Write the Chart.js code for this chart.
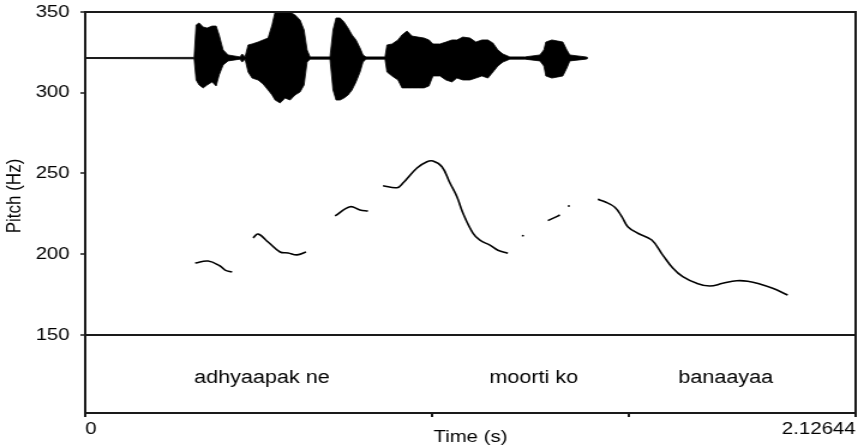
<!DOCTYPE html>
<html lang="en">
<head>
  <meta charset="UTF-8" />
  <title>Pitch contour</title>
  <script src="https://cdn.jsdelivr.net/npm/chart.js"></script>
  <style>
    html, body { margin: 0; padding: 0; background: #fff; }
  </style>
</head>
<body>
  <!-- the source picture is stretched sideways, so the canvas is too -->
  <canvas id="pitchChart" width="720" height="446" style="width:864px;height:446px;display:block"></canvas>

  <script>
    // pitch track: time (s) / F0 (Hz), null breaks the unvoiced stretches
    const pitchTime = [
      0.3034, 0.3392, 0.3723, 0.3861, 0.4054,
      0.43,
      0.4633, 0.4771, 0.5047, 0.5378, 0.5599, 0.5847, 0.6095,
      0.65,
      0.6895, 0.7309, 0.7584, 0.7805,
      0.80,
      0.8219, 0.8605, 0.8770, 0.9157, 0.9432, 0.9598, 0.9846, 1.0067, 1.0260, 1.0425, 1.0701, 1.0894, 1.1170, 1.1391, 1.1666,
      1.19,
      1.2052, 1.2108,
      1.24,
      1.2770, 1.2935, 1.3101,
      1.32,
      1.3321, 1.3376,
      1.37,
      1.4149, 1.4342, 1.4617, 1.4810, 1.4976, 1.5252, 1.5638, 1.5941, 1.6217, 1.6493, 1.6879, 1.7238, 1.7596, 1.7982, 1.8286, 1.8617, 1.8975, 1.9389
    ];
    const pitchHz = [
      194.6, 195.8, 192.7, 190.2, 189.0,
      null,
      210.1, 212.5, 207.6, 201.4, 200.8, 199.6, 201.4,
      null,
      223.7, 229.4, 227.4, 226.8,
      null,
      242.4, 241.2, 244.1, 253.4, 257.3, 257.7, 254.2, 244.1, 235.6, 225.5, 213.1, 208.7, 205.6, 202.5, 200.6,
      null,
      211.6, 211.4,
      null,
      220.8, 222.5, 224.3,
      null,
      229.7, 230.1,
      null,
      234.0, 232.5, 229.1, 223.3, 217.1, 213.0, 208.8, 199.5, 191.5, 186.1, 182.0, 180.3, 182.0, 183.6, 183.3, 181.6, 178.9, 174.8
    ];

    // waveform envelope, drawn on the same Hz axis as in the original picture
    const waveTime = [
      0, 0.3006, 0.3061, 0.3144, 0.3254, 0.3365, 0.3503, 0.3613, 0.3696, 0.3806, 0.3944,
      0.4275, 0.4330, 0.4413, 0.4496, 0.4606, 0.4771, 0.4909, 0.5047, 0.5157, 0.5240,
      0.5378, 0.5516, 0.5654, 0.5792, 0.5930, 0.6040, 0.6123, 0.6206, 0.6757, 0.6840,
      0.6923, 0.7033, 0.7143, 0.7254, 0.7364, 0.7474, 0.7585, 0.7667, 0.7750, 0.8274,
      0.8329, 0.8467, 0.8633, 0.8743, 0.8881, 0.9019, 0.9184, 0.9350, 0.9488, 0.9598,
      0.9791, 0.9956, 1.0122, 1.0260, 1.0425, 1.0618, 1.0784, 1.0949, 1.1115, 1.1253,
      1.1391, 1.1528, 1.1721, 1.2135, 1.2549, 1.2659, 1.2714, 1.2880, 1.3045, 1.3183,
      1.3293, 1.3376, 1.3818, 1.3873
    ];
    const waveTop = [
      321.8, 321.9, 342.0, 343.2, 340.7, 340.1, 341.3, 341.3, 335.8, 326.5, 323.4,
      322.2, 324.0, 322.2, 329.6, 330.2, 331.4, 332.7, 333.9, 342.0, 350.0,
      350.0, 350.0, 350.0, 348.1, 345.0, 338.9, 326.5, 322.2, 322.2, 338.9,
      346.3, 346.3, 343.8, 340.1, 335.8, 332.7, 327.7, 323.4, 322.2, 322.2,
      329.6, 330.2, 332.7, 335.8, 338.2, 335.1, 334.5, 333.9, 332.7, 330.2,
      330.2, 331.4, 332.7, 332.7, 334.5, 333.9, 331.4, 332.7, 332.7, 330.8,
      326.5, 324.0, 322.2, 322.2, 323.4, 326.5, 331.4, 332.7, 332.0, 331.4,
      326.5, 323.4, 322.2, 321.8
    ];
    const waveBottom = [
      321.2, 321.0, 307.9, 304.8, 303.0, 304.8, 306.7, 304.2, 311.0, 317.2, 319.7,
      320.8, 319.0, 320.8, 312.8, 309.1, 307.9, 305.4, 301.7, 298.6, 295.5,
      293.7, 296.7, 295.5, 298.6, 300.5, 304.8, 319.0, 320.8, 320.8, 301.7,
      295.5, 295.5, 296.7, 298.6, 301.7, 306.7, 312.8, 319.0, 320.8, 320.8,
      312.8, 310.4, 307.9, 303.0, 303.0, 303.0, 303.0, 303.0, 304.2, 310.4,
      310.4, 307.9, 306.7, 309.1, 307.9, 307.9, 309.1, 310.4, 309.1, 312.8,
      316.6, 319.0, 320.8, 320.8, 319.7, 316.6, 310.4, 309.1, 309.8, 310.4,
      315.3, 319.7, 320.8, 321.2
    ];

    // text tier
    const words = ['adhyaapak ne', 'moorti ko', 'banaayaa'];
    const wordTime = [0.488, 1.238, 1.768];
    const wordHz = 123.4;

    const yTicks = [150, 200, 250, 300, 350];
    const xTicks = [0, 0.957, 1.5, 2.12644];
    const yMin = 101.7;
    const tMax = 2.12644;

    const FONT = 'Liberation Sans, Arial, sans-serif';
    const INK = '#1a1a1a';

    const toPoints = (xs, ys) => xs.map((x, i) => ({ x: x, y: ys[i] }));

    // outer box, word labels and the y title (sits a bit above centre)
    const framePlugin = {
      id: 'frame',
      afterDatasetsDraw(chart) {
        const { ctx, chartArea: a, scales } = chart;
        ctx.save();
        ctx.strokeStyle = INK;
        ctx.lineWidth = 2;
        ctx.strokeRect(a.left, a.top, a.right - a.left, a.bottom - a.top);

        ctx.fillStyle = '#000';
        ctx.font = '18px ' + FONT;
        ctx.textAlign = 'center';
        ctx.textBaseline = 'middle';
        const yw = scales.y.getPixelForValue(wordHz);
        words.forEach((w, i) => {
          ctx.fillText(w, scales.x.getPixelForValue(wordTime[i]), yw);
        });

        ctx.font = '17px ' + FONT;
        ctx.translate(12.5, a.top + 184);
        ctx.rotate(-Math.PI / 2);
        ctx.fillText('Pitch (Hz)', 0, 0);
        ctx.restore();
      }
    };

    new Chart(document.getElementById('pitchChart'), {
      type: 'line',
      data: {
        datasets: [
          {
            data: toPoints(waveTime, waveTop),
            borderColor: '#000',
            backgroundColor: '#000',
            borderWidth: 0.8,
            pointRadius: 0,
            fill: '+1'
          },
          {
            data: toPoints(waveTime, waveBottom),
            borderColor: '#000',
            borderWidth: 0.8,
            pointRadius: 0,
            fill: false
          },
          {
            data: toPoints(pitchTime, pitchHz),
            borderColor: '#000',
            borderWidth: 1.6,
            pointRadius: 0,
            tension: 0.4,
            spanGaps: false,
            fill: false
          }
        ]
      },
      options: {
        responsive: false,
        animation: false,
        devicePixelRatio: 1,
        layout: { padding: { top: 12, right: 7, left: 0, bottom: 0 } },
        plugins: {
          legend: { display: false },
          tooltip: { enabled: false }
        },
        scales: {
          x: {
            type: 'linear',
            min: 0,
            max: tMax,
            afterBuildTicks: s => { s.ticks = xTicks.map(v => ({ value: v })); },
            afterFit: s => {
              s.height = 33;
              s.paddingLeft = 0;
              s.paddingRight = 0;
            },
            ticks: {
              autoSkip: false,
              maxRotation: 0,
              align: 'inner',
              padding: 2,
              color: '#000',
              font: { family: FONT, size: 17 },
              callback: (v, i) => (i === 0 || i === xTicks.length - 1) ? String(v) : ''
            },
            grid: { drawOnChartArea: false, tickLength: 4, color: INK, lineWidth: 2 },
            border: { color: INK, width: 2 },
            title: {
              display: true,
              text: 'Time (s)',
              color: '#000',
              padding: 0,
              font: { family: FONT, size: 17, lineHeight: 1 }
            }
          },
          y: {
            type: 'linear',
            min: yMin,
            max: 350,
            afterBuildTicks: s => { s.ticks = yTicks.map(v => ({ value: v })); },
            afterFit: s => {
              s.width = 71;
              s.paddingTop = 0;
              s.paddingBottom = 0;
            },
            ticks: {
              color: '#000',
              padding: 9,
              font: { family: FONT, size: 17 }
            },
            grid: {
              drawOnChartArea: true,
              tickLength: 4,
              tickColor: INK,
              tickWidth: 1.5,
              lineWidth: 2,
              color: c => (c.tick && c.tick.value === 150) ? INK : 'rgba(0,0,0,0)'
            },
            border: { color: INK, width: 2 },
            title: { display: false }
          }
        }
      },
      plugins: [framePlugin]
    });
  </script>
</body>
</html>
